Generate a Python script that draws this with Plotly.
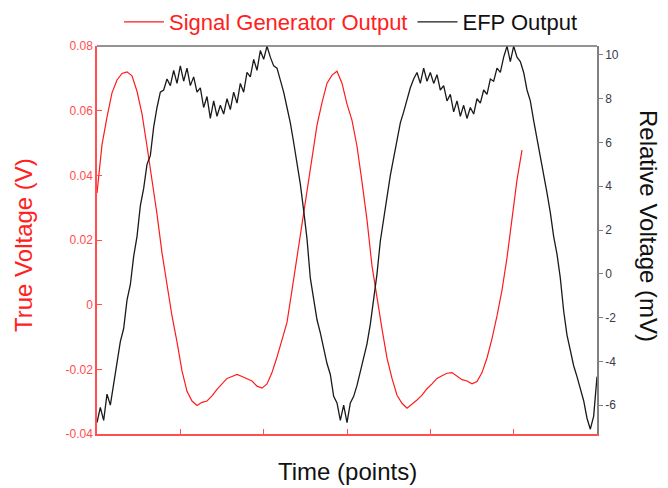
import plotly.graph_objects as go

# ---- data ----
black_x = list(range(0, 601, 4))
black_mv = [
    -6.8, -6.1, -6.7, -5.5, -6.0, -5.0, -4.2, -3.1, -2.5, -1.2,
    -0.5, 0.8, 1.7, 3.1, 3.9, 5.0, 5.4, 6.7, 7.6, 8.3,
    8.4, 8.9, 8.6, 9.3, 8.7, 9.5, 8.8, 9.4, 8.6, 9.0,
    8.3, 8.5, 7.6, 8.1, 7.1, 7.9, 7.2, 7.7, 7.3, 8.0,
    7.5, 8.3, 7.8, 8.7, 8.3, 9.2, 9.0, 9.8, 9.3, 10.2,
    9.8, 10.4, 9.9, 9.5, 9.4, 8.9, 8.3, 7.6, 6.9, 6.0,
    5.1, 4.1, 2.9, 1.6, -0.2, -1.2, -2.1, -2.7, -3.4, -4.1,
    -4.6, -5.6, -5.9, -6.7, -6.0, -6.8, -5.9, -5.6, -5.1, -4.5,
    -3.8, -3.2, -2.3, -1.2, 0.0, 1.5, 2.6, 3.5, 4.5, 5.3,
    6.1, 6.9, 7.4, 8.0, 8.5, 8.9, 9.2, 8.7, 9.4, 8.8,
    9.2, 8.7, 9.1, 8.4, 8.6, 7.9, 8.2, 7.4, 7.9, 7.2,
    7.7, 7.1, 7.6, 7.3, 8.0, 7.8, 8.4, 8.2, 8.9, 8.8,
    9.4, 9.2, 9.9, 10.4, 9.7, 10.4, 9.9, 9.7, 9.2, 8.4,
    7.9, 7.0, 6.2, 5.4, 4.6, 3.7, 2.8, 1.7, 0.9, -0.2,
    -1.7, -2.8, -3.5, -4.2, -4.7, -5.3, -5.8, -6.6, -7.1, -6.5,
    -4.7,
]
black_x = black_x[:len(black_mv)]

red_x = list(range(0, 511, 6))
red_v = [
    0.0345, 0.0495, 0.058, 0.0655, 0.0695, 0.0715, 0.072, 0.0708, 0.066, 0.059,
    0.049, 0.039, 0.028, 0.016, 0.0058, -0.0035, -0.0115, -0.0205, -0.0268, -0.0298,
    -0.0312, -0.0302, -0.0298, -0.0282, -0.0262, -0.0245, -0.0228, -0.0222, -0.0216, -0.0222,
    -0.0228, -0.0236, -0.0252, -0.0258, -0.0245, -0.0210, -0.0162, -0.0112, -0.0055, 0.0045,
    0.015, 0.025, 0.036, 0.046, 0.0555, 0.0625, 0.0685, 0.071, 0.0722, 0.0685,
    0.062, 0.057, 0.049, 0.038, 0.0262, 0.012, 0.0015, -0.0075, -0.0165, -0.0228,
    -0.028, -0.0305, -0.032, -0.0308, -0.0295, -0.028, -0.026, -0.0245, -0.0228, -0.022,
    -0.0212, -0.0210, -0.0222, -0.0232, -0.0236, -0.0245, -0.0238, -0.021, -0.0165, -0.0105,
    -0.0035, 0.0045, 0.0145, 0.0262, 0.0386, 0.0478,
]

left_ticks = [-0.04, -0.02, 0, 0.02, 0.04, 0.06, 0.08]
left_labels = ["-0.04", "-0.02", "0", "0.02", "0.04", "0.06", "0.08"]
right_ticks = [-6, -4, -2, 0, 2, 4, 6, 8, 10]
right_labels = ["-6", "-4", "-2", "0", "2", "4", "6", "8", "10"]
x_ticks = [100, 200, 300, 400, 500]

FONT = "Arial, Liberation Sans, sans-serif"
RED = "#ff1a1a"
RED_LBL = "#ff4d4d"

# page body adds an 8px offset; figure coordinates below are page coords minus 8
W, H = 660, 480
L, R, T, B = 89, 71, 38, 54
PW, PH = W - L - R, H - T - B


def px_x(page_x):
    return (page_x - 8 - L) / PW


def px_y(page_y):
    return (H - B - (page_y - 8)) / PH


fig = go.Figure()
fig.add_trace(go.Scatter(
    x=red_x, y=red_v, mode="lines", yaxis="y",
    line=dict(color=RED, width=1.2),
    name="<span style='color:#ff2020'>Signal Generator Output</span>",
))
fig.add_trace(go.Scatter(
    x=black_x, y=black_mv, mode="lines", yaxis="y2",
    line=dict(color="#1a1a1a", width=1.3),
    name="<span style='color:#111111'>EFP Output</span>",
))

fig.update_layout(
    width=W, height=H,
    margin=dict(l=L, r=R, t=T, b=B, autoexpand=False),
    paper_bgcolor="white", plot_bgcolor="white",
    font=dict(family=FONT, size=12),
    showlegend=True,
    legend=dict(orientation="h", x=px_x(351), xanchor="center",
                y=px_y(1), yanchor="top", bgcolor="rgba(0,0,0,0)",
                font=dict(size=22, family=FONT), itemwidth=40, traceorder="normal"),
    xaxis=dict(range=[0, 600], showgrid=False, zeroline=False, automargin=False,
               showline=True, linecolor="#ff5050", linewidth=1.5,
               tickvals=x_ticks, ticktext=[""] * len(x_ticks),
               ticks="inside", ticklen=5, tickcolor="#ff5050", tickwidth=1.2),
    yaxis=dict(range=[-0.04, 0.08], showgrid=False, zeroline=False, automargin=False,
               showline=True, linecolor="#ff5050", linewidth=1.5,
               tickvals=left_ticks, ticktext=left_labels,
               ticks="inside", ticklen=5, tickcolor="#ff5050", tickwidth=1.2,
               tickfont=dict(color=RED_LBL, size=12, family=FONT)),
    yaxis2=dict(range=[-7.32, 10.41], overlaying="y", side="right", automargin=False,
                showgrid=False, zeroline=False,
                showline=True, linecolor="#808080", linewidth=1.5,
                tickvals=right_ticks, ticktext=right_labels,
                ticks="outside", ticklen=4, tickcolor="#808080", tickwidth=1.2,
                tickfont=dict(color="#3a3a4a", size=12, family=FONT)),
    shapes=[dict(type="line", xref="paper", yref="paper", x0=0, x1=1, y0=1, y1=1,
                 line=dict(color="#707070", width=1.5))],
    annotations=[
        dict(text="True Voltage (V)", xref="paper", yref="paper",
             x=px_x(24), y=px_y(245), xanchor="center", yanchor="middle",
             textangle=-90, showarrow=False,
             font=dict(color="#ff2020", size=24, family=FONT)),
        dict(text="Relative Voltage (mV)", xref="paper", yref="paper",
             x=px_x(649), y=px_y(226), xanchor="center", yanchor="middle",
             textangle=90, showarrow=False,
             font=dict(color="#111111", size=24, family=FONT)),
        dict(text="Time (points)", xref="paper", yref="paper",
             x=px_x(347), y=px_y(471), xanchor="center", yanchor="middle",
             showarrow=False, font=dict(color="#111111", size=24, family=FONT)),
    ],
)

fig.write_html("out.html")
